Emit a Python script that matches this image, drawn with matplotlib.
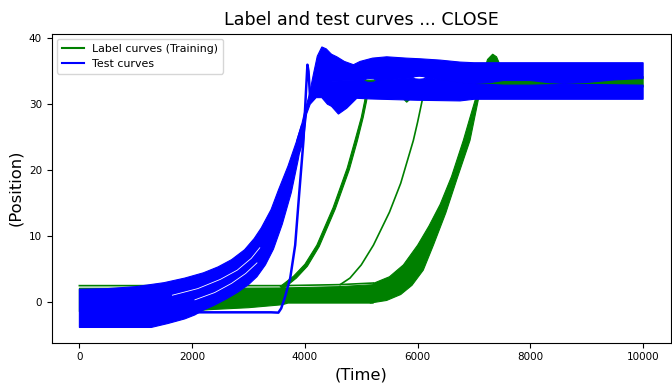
import matplotlib
matplotlib.use("Agg")
import matplotlib.pyplot as plt
import numpy as np

# ---------------- data (Time, Position) ----------------
# Green (label / training) curves
g_flat_top_line_x = [0, 2000, 3600, 4600, 5215]
g_flat_top_line_y = [2.45, 2.45, 2.45, 2.6, 2.85]

g_flat_up_x = [0, 2000, 3600, 4600, 5215]
g_flat_up_y = [2.05, 2.05, 2.1, 2.3, 2.6]
g_flat_lo_x = [0, 2000, 2300, 3000, 3600, 3700, 5157, 5215]
g_flat_lo_y = [-1.5, -1.4, -1.2, -0.9, -0.45, -0.2, -0.2, -0.2]

gA_left_x = [3560, 3800, 4000, 4212, 4500, 4750, 4891, 5000, 5060, 5100]
gA_left_y = [2.3, 3.9, 5.7, 8.6, 14.3, 20.3, 24.6, 28.0, 30.5, 33.0]
gA_right_x = [3620, 3850, 4045, 4255, 4540, 4790, 4930, 5035, 5095, 5140]
gA_right_y = [2.0, 3.6, 5.4, 8.4, 14.1, 20.1, 24.4, 28.0, 30.5, 33.0]

gB_x = [4625, 4800, 5000, 5216, 5500, 5700, 5924, 6000, 6084, 6150]
gB_y = [2.6, 3.6, 5.6, 8.6, 13.6, 18.0, 24.5, 27.3, 30.7, 33.0]

gC_up_x = [5215, 5500, 5747, 6000, 6200, 6400, 6600, 6810, 6929, 7050, 7150, 7240,
           7331, 7400, 7470, 7550, 7700]
gC_up_y = [2.8, 3.8, 5.6, 8.6, 11.5, 14.8, 19.0, 24.5, 28.0, 31.5, 34.3, 36.8,
           37.6, 37.2, 35.8, 34.5, 34.0]
gC_lo_x = [5157, 5450, 5700, 5900, 6100, 6280, 6500, 6700, 6929, 7077, 7200, 7350, 7700]
gC_lo_y = [-0.2, 0.2, 1.1, 2.5, 4.8, 8.6, 13.5, 18.7, 24.5, 30.7, 32.3, 32.8, 32.8]

g_plat_up_x = [5050, 5300, 5900, 6200, 6900, 7500, 8000, 8300, 9000, 10000]
g_plat_up_y = [33.65, 33.65, 33.6, 33.6, 33.7, 33.8, 33.8, 33.6, 33.8, 34.2]
g_plat_lo_x = [5050, 5650, 5750, 5806, 5870, 5950, 6300, 10000]
g_plat_lo_y = [32.8, 32.0, 30.8, 30.3, 30.8, 32.0, 32.6, 32.6]

# Blue (test) curves
b_rise_up_x = [0, 500, 1000, 1500, 1870, 2200, 2460, 2700, 2930, 3100, 3225, 3400,
               3532, 3700, 3857, 3946]
b_rise_up_y = [1.9, 2.0, 2.3, 2.9, 3.6, 4.4, 5.3, 6.4, 7.9, 9.6, 11.2, 14.0,
               17.0, 20.6, 24.5, 27.0]
b_rise_lo_x = [0, 1275, 1571, 1870, 2048, 2192, 2400, 2600, 2800, 3000, 3150, 3300,
               3443, 3600, 3760, 3880, 3946]
b_rise_lo_y = [-3.9, -3.9, -3.3, -2.6, -2.0, -1.3, -0.5, 0.4, 1.4, 2.6, 3.8, 5.6,
               8.0, 11.8, 16.6, 21.5, 24.5]

# thin empty lanes between sub-groups of the blue bundle
b_lane1_x = [1650, 2100, 2500, 2800, 3050, 3200]
b_lane1_y = [1.0, 2.0, 3.4, 4.8, 6.6, 8.2]
b_lane2_x = [2050, 2400, 2700, 2950, 3150]
b_lane2_y = [0.3, 1.4, 2.8, 4.3, 5.9]

b_sharp_x = [2000, 2600, 3400, 3530, 3580, 3650, 3740, 3828, 3900, 3975, 4020, 4045,
             4065, 4094, 4140, 4200]
b_sharp_y = [-1.6, -1.6, -1.6, -1.65, -1.0, 0.8, 3.6, 8.6, 16.5, 24.5, 32.0, 36.0,
             35.0, 30.7, 31.5, 33.0]

b_osc_up_x = [3857, 3946, 4000, 4080, 4150, 4220, 4301, 4380, 4470]
b_osc_up_y = [24.5, 27.0, 29.0, 31.5, 34.5, 37.3, 38.7, 38.4, 37.6]
b_osc_lo_x = [3900, 3975, 4030, 4094, 4200, 4300, 4400, 4470]
b_osc_lo_y = [22.5, 24.5, 28.5, 30.0, 31.0, 31.0, 30.0, 29.7]

b_top_x = [4470, 4567, 4700, 4862, 4980, 5200, 5452, 5800, 6043, 6400, 6752, 7000, 10000]
b_top_y = [37.6, 37.2, 36.5, 36.0, 36.5, 37.0, 37.2, 37.0, 36.9, 36.7, 36.4, 36.3, 36.3]
b_bot_x = [4470, 4595, 4744, 4921, 5157, 5570, 6000, 6752, 7000, 10000]
b_bot_y = [29.7, 28.5, 29.4, 30.9, 30.8, 30.7, 30.6, 30.5, 30.75, 30.75]

gap_x = [4470, 5030, 5100, 5157, 5220, 5280, 5896, 5960, 6030, 6100, 6162, 6900,
         7300, 7520, 8000, 8300, 8600, 9000, 9500, 10000]
gap_top = [33.5, 33.6, 33.85, 33.9, 33.85, 33.6, 34.0, 34.2, 34.25, 34.2, 34.0, 33.1,
           33.3, 33.6, 33.6, 33.3, 33.15, 33.3, 33.7, 33.9]
gap_bot = [33.5, 33.6, 33.35, 33.3, 33.35, 33.6, 34.0, 33.85, 33.8, 33.85, 34.0, 33.1,
           33.0, 32.9, 32.9, 32.95, 33.0, 33.0, 32.95, 32.9]

x_ticks = [0, 2000, 4000, 6000, 8000, 10000]
y_ticks = [0, 10, 20, 30, 40]

GREEN = "#008000"
BLUE = "#0000ff"


def band(ax, ux, uy, lx, ly, color, z):
    xs = list(ux) + list(lx)[::-1]
    ys = list(uy) + list(ly)[::-1]
    ax.fill(xs, ys, color=color, lw=0.8, zorder=z)


fig = plt.figure(figsize=(6.72, 3.88), dpi=100)
ax = fig.add_axes([0.077, 0.117, 0.922, 0.796])

# green label curves
band(ax, g_flat_up_x, g_flat_up_y, g_flat_lo_x, g_flat_lo_y, GREEN, 2)
ax.plot(g_flat_top_line_x, g_flat_top_line_y, color=GREEN, lw=1.2, zorder=2)
band(ax, gA_left_x, gA_left_y, gA_right_x, gA_right_y, GREEN, 2)
band(ax, gC_up_x, gC_up_y, gC_lo_x, gC_lo_y, GREEN, 2)
band(ax, g_plat_up_x, g_plat_up_y, g_plat_lo_x, g_plat_lo_y, GREEN, 2)
ax.plot(gB_x, gB_y, color=GREEN, lw=1.2, zorder=2, label="Label curves (Training)")

# blue test curves
band(ax, b_rise_up_x, b_rise_up_y, b_rise_lo_x, b_rise_lo_y, BLUE, 3)
ax.plot(b_lane1_x, b_lane1_y, color="white", lw=0.6, zorder=3.1)
ax.plot(b_lane2_x, b_lane2_y, color="white", lw=0.6, zorder=3.1)
band(ax, b_osc_up_x, b_osc_up_y, b_osc_lo_x, b_osc_lo_y, BLUE, 3)
band(ax, b_top_x, b_top_y, gap_x, gap_top, BLUE, 3)
band(ax, gap_x, gap_bot, b_bot_x, b_bot_y, BLUE, 3)
ax.plot(b_sharp_x, b_sharp_y, color=BLUE, lw=1.8, zorder=3.2, label="Test curves")

ax.set_xlim(-490, 10500)
ax.set_ylim(-6.2, 40.7)
ax.set_xticks(x_ticks)
ax.set_yticks(y_ticks)
ax.tick_params(labelsize=7.5)
ax.set_title("Label and test curves ... CLOSE", fontsize=12.6)
ax.set_xlabel("(Time)", fontsize=11.8)
ax.set_ylabel("(Position)", fontsize=11.8)
leg = ax.legend(loc="upper left", fontsize=7.9, handlelength=2.0)
for line in leg.get_lines():
    line.set_linewidth(1.5)

fig.savefig("out.png", dpi=100)
